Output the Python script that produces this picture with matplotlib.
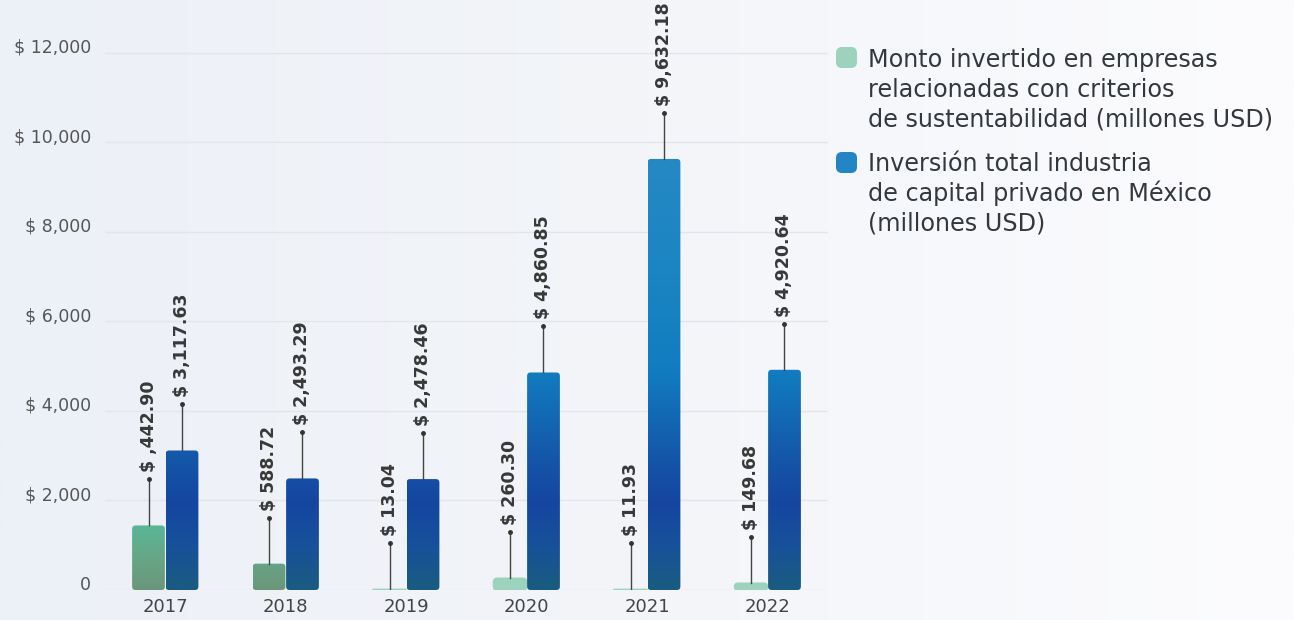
import numpy as np
import matplotlib
matplotlib.use("Agg")
import matplotlib.pyplot as plt
from matplotlib.colors import LinearSegmentedColormap
from matplotlib.patches import FancyBboxPatch

plt.rcParams['font.family'] = ['DejaVu Sans']

years = ['2017', '2018', '2019', '2020', '2021', '2022']
sustentable = [1442.90, 588.72, 13.04, 260.30, 11.93, 149.68]
total = [3117.63, 2493.29, 2478.46, 4860.85, 9632.18, 4920.64]
sustentable_labels = ['$ ,442.90', '$ 588.72', '$ 13.04', '$ 260.30', '$ 11.93', '$ 149.68']
total_labels = ['$ 3,117.63', '$ 2,493.29', '$ 2,478.46', '$ 4,860.85', '$ 9,632.18', '$ 4,920.64']
yticks = [0, 2000, 4000, 6000, 8000, 10000, 12000]
ytick_labels = ['0', '$ 2,000', '$ 4,000', '$ 6,000', '$ 8,000', '$ 10,000', '$ 12,000']

legend_lines = [
    ['Monto invertido en empresas', 'relacionadas con criterios',
     'de sustentabilidad (millones USD)'],
    ['Inversión total industria', 'de capital privado en México',
     '(millones USD)'],
]

W, H = 1294, 620
fig = plt.figure(figsize=(W / 100, H / 100), dpi=100)

# soft horizontal background wash
bg = fig.add_axes([0, 0, 1, 1], zorder=-5)
bg_cmap = LinearSegmentedColormap.from_list('bg', ['#ecf0f7', '#f3f5f9', '#fcfcfe'])
bg.imshow(np.linspace(0, 1, 512)[None, :], cmap=bg_cmap, aspect='auto',
          extent=(0, 1, 0, 1))
bg.axis('off')

ax_l, ax_b, ax_r, ax_t = 105, 30, 828, 620
ax = fig.add_axes([ax_l / W, ax_b / H, (ax_r - ax_l) / W, (ax_t - ax_b) / H])
ax.patch.set_alpha(0)
ymax = 13184
ax.set_xlim(-0.5, 5.5)
ax.set_ylim(0, ymax)

for s in ax.spines.values():
    s.set_visible(False)
ax.set_yticks(yticks)
ax.set_yticklabels(ytick_labels)
ax.set_xticks(range(len(years)))
ax.set_xticklabels(years)
ax.tick_params(axis='y', length=0, pad=10, labelsize=12.5, labelcolor='#555555')
ax.tick_params(axis='x', length=0, pad=6, labelsize=13, labelcolor='#444444')
for lab in ax.get_yticklabels():
    lab.set_verticalalignment('baseline')
ax.grid(axis='y', color='#e2e5ea', linewidth=1)
ax.set_axisbelow(True)

# gradients follow the value scale, not the bar height
blue_cmap = LinearSegmentedColormap.from_list('blue', [
    (0.0, '#1a5c80'), (0.1, '#17519a'), (0.2, '#1446a0'), (0.3, '#1556a8'),
    (0.5, '#117cbf'), (0.7, '#1a84c2'), (1.0, '#2589c4')])
green_cmap = LinearSegmentedColormap.from_list('green', [
    (0.0, '#6b967c'), (0.45, '#67a585'), (1.0, '#58b898')])
mint = '#9dd2bd'

w = 0.272
gap = 0.006
px_x = (ax_r - ax_l) / 6.0            # pixels per x unit
px_y = (ax_t - ax_b) / ymax           # pixels per y unit
asp = px_x / px_y
rad_px = 3.5
lead = 1030


def gradient_bar(x0, h, cmap, vmax, solid=None):
    r = min(rad_px / px_x, (h * px_y / 2) / px_x)
    patch = FancyBboxPatch((x0, 0), w, h,
                           boxstyle=f"round,pad=0,rounding_size={max(r, 1e-4)}",
                           mutation_aspect=asp, linewidth=0, zorder=3)
    if solid is not None:
        patch.set_facecolor(solid)
        patch.set_edgecolor(solid)
        patch.set_linewidth(1.2)
        ax.add_patch(patch)
        return
    patch.set_facecolor('none')
    ax.add_patch(patch)
    vals = np.linspace(0, h, 300)[:, None] / vmax
    img = cmap(np.clip(vals, 0, 1))
    im = ax.imshow(img, extent=(x0, x0 + w, 0, h), origin='lower',
                   aspect='auto', zorder=3, interpolation='bilinear')
    im.set_clip_path(patch)


def leader(xc, h, text):
    ax.plot([xc, xc], [h, h + lead], color='#444444', lw=1, zorder=4)
    ax.plot([xc], [h + lead], 'o', color='#333333', ms=2.5, zorder=4)
    ax.annotate(text, (xc, h + lead), xytext=(0, 5), textcoords='offset points',
                rotation=90, ha='center', va='bottom', fontsize=12.5,
                fontweight='bold', color='#383838')


for i, (g, b) in enumerate(zip(sustentable, total)):
    gx = i - gap / 2 - w
    bx = i + gap / 2
    if g < 300:
        gradient_bar(gx, g, green_cmap, 1500, solid=mint)
    else:
        gradient_bar(gx, g, green_cmap, 1500)
    gradient_bar(bx, b, blue_cmap, 9700)
    leader(gx + w / 2, g, sustentable_labels[i])
    leader(bx + w / 2, b, total_labels[i])

ax.set_xlim(-0.5, 5.5)
ax.set_ylim(0, ymax)

# legend drawn by hand to the right of the plot
swatches = [mint, '#2385c3']
tops = [47, 152]
baselines = [[67, 97, 127], [171, 201, 231]]
for col, top, lines, bls in zip(swatches, tops, legend_lines, baselines):
    sw = FancyBboxPatch((836 / W, 1 - (top + 21) / H), 21 / W, 21 / H,
                        boxstyle=f"round,pad=0,rounding_size={6 / W}",
                        mutation_aspect=W / H, transform=fig.transFigure,
                        facecolor=col, edgecolor='none')
    fig.patches.append(sw)
    for line, bl in zip(lines, bls):
        fig.text(868 / W, 1 - bl / H, line, fontsize=17.2, color='#33383d',
                 va='baseline', ha='left')

fig.savefig('out.png', dpi=100)
